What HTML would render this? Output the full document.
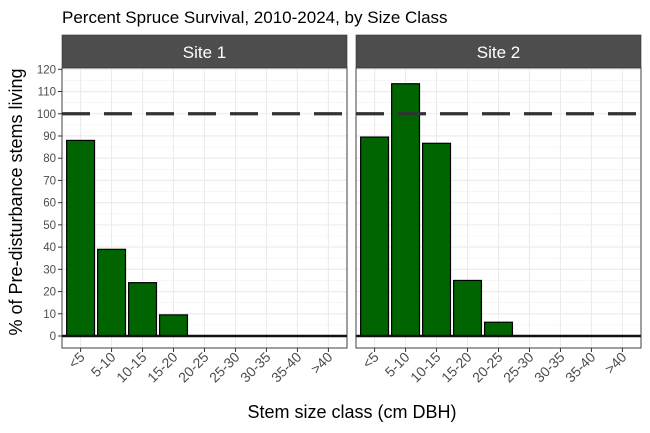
<!DOCTYPE html>
<html><head><meta charset="utf-8"><style>
html,body{margin:0;padding:0;background:#fff}
svg{display:block;font-family:"Liberation Sans",Arial,sans-serif}
</style></head><body>
<svg id="chart" width="650" height="433" viewBox="0 0 650 433" xmlns="http://www.w3.org/2000/svg">
<text x="62" y="23" font-size="17" fill="#000">Percent Spruce Survival, 2010-2024, by Size Class</text>
<text transform="translate(22,202) rotate(-90)" text-anchor="middle" font-size="18" fill="#000">% of Pre-disturbance stems living</text>
<text x="352" y="418" text-anchor="middle" font-size="18" fill="#000">Stem size class (cm DBH)</text>
<g id="panels"></g>
</svg>
<script>
const categories = ["<5","5-10","10-15","15-20","20-25","25-30","30-35","35-40",">40"];
const sites = ["Site 1","Site 2"];
const site1Values = [88, 39, 24, 9.5, 0, 0, 0, 0, 0];
const site2Values = [89.5, 113.5, 86.7, 25, 6.2, 0, 0, 0, 0];
const yTicks = [0,10,20,30,40,50,60,70,80,90,100,110,120];
const referenceLine = 100;

const NS = "http://www.w3.org/2000/svg";
const g = document.getElementById('panels');
function mk(tag, attrs, parent){const e=document.createElementNS(NS,tag);for(const k in attrs)e.setAttribute(k,attrs[k]);(parent||g).appendChild(e);return e;}
function c_safe(s){return s.replace(/[^0-9a-z]+/gi,'-');}
const topY=68, bottomY=348;
function y(v){return 336 - v*(336-69.3)/120;}
const panelX=[62,356], panelW=285;
const unit=panelW/9.2;
function xc(i,p){return panelX[p]+(i+0.6)*unit;}
const allValues=[site1Values,site2Values];

for(let p=0;p<2;p++){
  const x0=panelX[p];
  const strip=mk('rect',{x:x0,y:35,width:panelW,height:topY-35,fill:'#4d4d4d'});
  
  
  const st=mk('text',{x:x0+panelW/2,y:58,'text-anchor':'middle','font-size':17,fill:'#fff'});
  st.textContent=sites[p];
  
  
  for(let v=5;v<=125;v+=10){const yy=y(v);if(yy<topY)continue;
    const l=mk('line',{x1:x0,x2:x0+panelW,y1:yy,y2:yy,stroke:'#f1f1f1','stroke-width':0.6});
    
    }
  for(const v of yTicks){const yy=y(v);
    const l=mk('line',{x1:x0,x2:x0+panelW,y1:yy,y2:yy,stroke:'#ebebeb','stroke-width':1.1});
    
    }
  categories.forEach((c,i)=>{const xx=xc(i,p);
    const l=mk('line',{x1:xx,x2:xx,y1:topY,y2:bottomY,stroke:'#ebebeb','stroke-width':1.1});
    
    });
  allValues[p].forEach((v,i)=>{
    if(v<=0)return;
    const bw=unit*0.9;
    const b=mk('rect',{x:xc(i,p)-bw/2,y:y(v),width:bw,height:y(0)-y(v),fill:'#006400',stroke:'#000','stroke-width':1.2});
    
    
  });
  const z=mk('line',{x1:x0,x2:x0+panelW,y1:y(0),y2:y(0),stroke:'#111','stroke-width':2.6});
  
  
  const d=mk('line',{x1:x0,x2:x0+panelW,y1:y(referenceLine),y2:y(referenceLine),stroke:'#333','stroke-width':3.2,'stroke-dasharray':'28,14'});
  
  
  const fr=mk('rect',{x:x0,y:topY,width:panelW,height:bottomY-topY,fill:'none',stroke:'#333','stroke-width':0.8});
  
  
  const sb=mk('rect',{x:x0,y:35,width:panelW,height:bottomY-35,fill:'none',stroke:'#333','stroke-width':0.6});
  
  
  categories.forEach((c,i)=>{const xx=xc(i,p);
    const t=mk('line',{x1:xx,x2:xx,y1:bottomY,y2:bottomY+4,stroke:'#333','stroke-width':1});
    
    
    const tl=mk('text',{transform:`translate(${xx+5},${bottomY+10}) rotate(-45)`,'text-anchor':'end','font-size':14,fill:'#4d4d4d'});
    tl.textContent=c;
    
    });
}
for(const v of yTicks){const yy=y(v);
  const t=mk('line',{x1:58,x2:62,y1:yy,y2:yy,stroke:'#333','stroke-width':1});
  
  
  const tl=mk('text',{x:56,y:yy+4,'text-anchor':'end','font-size':11.5,fill:'#4d4d4d'});
  tl.textContent=v;
  
  }
</script>
</body></html>
